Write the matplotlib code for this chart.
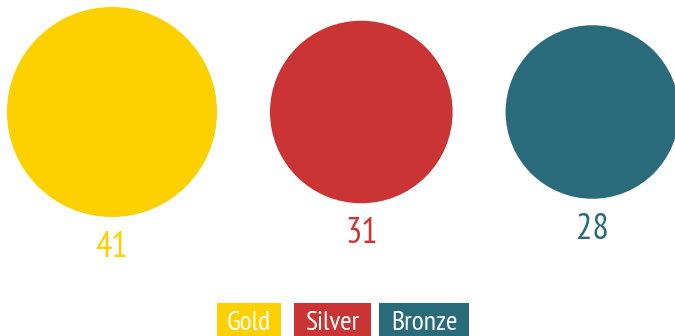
import numpy as np
import matplotlib.pyplot as plt
from matplotlib.patches import Circle, Rectangle

medals = ['Gold', 'Silver', 'Bronze']
counts = [41, 31, 28]
colors = ['#FDD100', '#CB3434', '#296B7B']

W, H = 675, 336
fig = plt.figure(figsize=(W / 100, H / 100), dpi=100)
ax = fig.add_axes([0, 0, 1, 1])
ax.set_xlim(0, W)
ax.set_ylim(H, 0)
ax.set_aspect('equal')
ax.axis('off')

font = ['PT Sans Narrow', 'DejaVu Sans']

# circle area proportional to medal count
r_max = 105
radii = r_max * np.sqrt(np.array(counts) / max(counts))
gap = 53
cy = 112
left = 7
for name, n, c, r in zip(medals, counts, colors, radii):
    cx = left + r
    ax.add_patch(Circle((cx, cy), r, color=c, lw=0))
    ax.text(cx, cy + r + 40, str(n), color=c, fontsize=26, ha='center', va='baseline',
            family=font)
    left = cx + r + gap

# legend boxes along the bottom
box_x = [217, 294, 379]
box_w = [64, 77, 90]
for name, c, x0, w in zip(medals, colors, box_x, box_w):
    ax.add_patch(Rectangle((x0, 303), w, 40, color=c, lw=0))
    ax.text(x0 + w / 2, 330, name, color='white', fontsize=20, ha='center', va='baseline',
            family=font)

fig.savefig('out.png', dpi=100)
